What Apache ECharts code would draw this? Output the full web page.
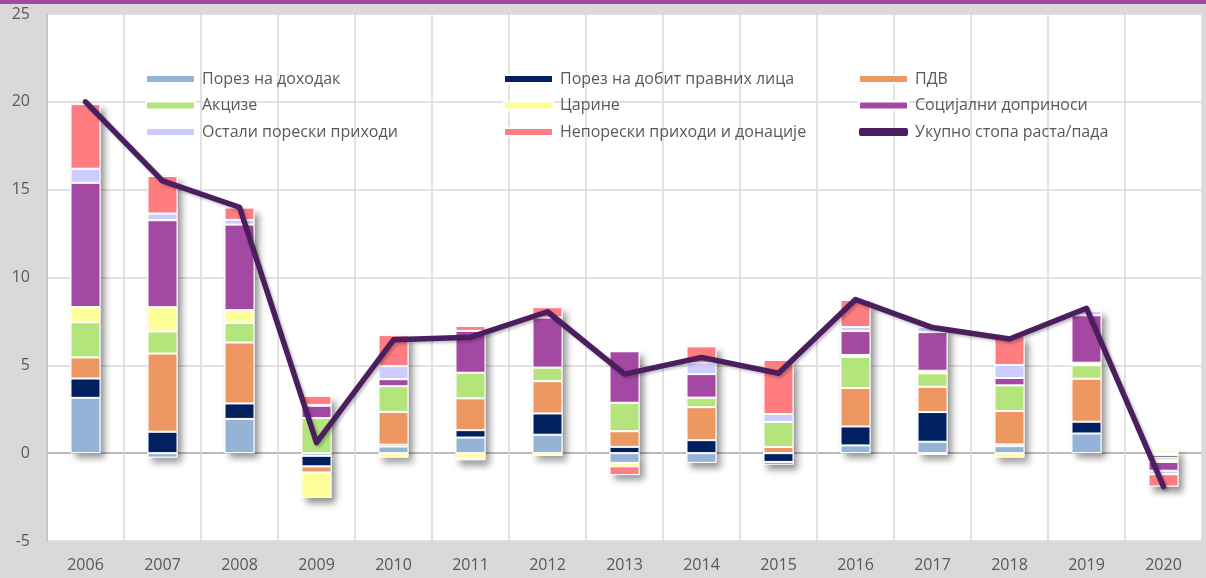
<!DOCTYPE html>
<html>
<head>
<meta charset="utf-8">
<script src="https://cdn.jsdelivr.net/npm/echarts@6/dist/echarts.min.js"></script>
<style>
  html, body { margin: 0; padding: 0; background: #d9d9d9; }
  #chart { width: 1206px; height: 578px; }
</style>
</head>
<body>
<div id="chart"></div>
<script>
// years on the category axis
var years = ['2006', '2007', '2008', '2009', '2010', '2011', '2012', '2013', '2014', '2015', '2016', '2017', '2018', '2019', '2020'];

// contributions to growth, p.p.
var incomeTax   = [3.15, -0.25, 1.95, -0.15, 0.38, 0.89, 1.05, -0.55, -0.55, 0, 0.44, 0.65, 0.4, 1.12, -0.1];
var profitTax   = [1.1, 1.22, 0.88, -0.6, 0.1, 0.42, 1.21, 0.36, 0.74, -0.5, 1.08, 1.69, 0.1, 0.67, -0.15];
var vat         = [1.2, 4.45, 3.47, -0.35, 1.87, 1.81, 1.84, 0.89, 1.88, 0.35, 2.19, 1.44, 1.9, 2.45, -0.15];
var excise      = [2.0, 1.26, 1.11, 2.0, 1.46, 1.46, 0.77, 1.62, 0.54, 1.43, 1.78, 0.76, 1.46, 0.76, -0.1];
var customs     = [0.87, 1.38, 0.73, -1.45, -0.25, -0.3, -0.15, -0.2, 0, 0, 0.1, 0.15, -0.25, 0.15, 0.2];
var social      = [7.07, 4.95, 4.87, 0.7, 0.4, 2.38, 2.85, 2.93, 1.34, -0.15, 1.36, 2.2, 0.42, 2.7, -0.5];
var otherTax    = [0.8, 0.38, 0.27, 0.05, 0.74, -0.1, 0, 0, 0.65, 0.45, 0.23, 0.29, 0.74, 0.24, -0.2];
var nonTax      = [3.68, 2.14, 0.7, 0.5, 1.77, 0.28, 0.59, -0.5, 0.93, 3.08, 1.54, -0.1, 1.65, 0.08, -0.7];
var totalGrowth = [20.0, 15.5, 14.0, 0.6, 6.45, 6.6, 8.05, 4.5, 5.45, 4.55, 8.75, 7.15, 6.5, 8.25, -1.9];

var yTicks = [-5, 0, 5, 10, 15, 20, 25];

var names = ['Порез на доходак', 'Порез на добит правних лица', 'ПДВ', 'Акцизе', 'Царине',
             'Социјални доприноси', 'Остали порески приходи', 'Непорески приходи и донације',
             'Укупно стопа раста/пада'];
var parts = [incomeTax, profitTax, vat, excise, customs, social, otherTax, nonTax];
var colors = ['#95b3d7', '#002060', '#ed9863', '#b4e57d', '#ffff99', '#a349a4', '#ccccff', '#ff7c80', '#4b1e5f'];

var font = 'Open Sans';
var grey = '#595959';

// white blocks behind the stacks only to cast the drop shadow
var posSum = years.map(function (y, i) {
  return parts.reduce(function (s, p) { return s + (p[i] > 0 ? p[i] : 0); }, 0);
});
var negSum = years.map(function (y, i) {
  return parts.reduce(function (s, p) { return s + (p[i] < 0 ? p[i] : 0); }, 0);
});
var shadowStyle = {
  color: '#fff',
  shadowColor: 'rgba(0,0,0,0.45)',
  shadowBlur: 7,
  shadowOffsetX: 4,
  shadowOffsetY: 5
};

var series = [
  { type: 'bar', stack: 'sh', data: posSum, barWidth: 30, barGap: '-100%', itemStyle: shadowStyle, silent: true },
  { type: 'bar', stack: 'sh', data: negSum, barWidth: 30, barGap: '-100%', itemStyle: shadowStyle, silent: true }
];
parts.forEach(function (p, k) {
  series.push({
    name: names[k],
    type: 'bar',
    stack: 'total',
    data: p,
    barWidth: 30,
    barGap: '-100%',
    itemStyle: { color: colors[k], borderColor: '#fff', borderWidth: 1 }
  });
});
series.push({
  name: names[8],
  type: 'line',
  data: totalGrowth,
  symbol: 'none',
  z: 5,
  itemStyle: { color: colors[8] },
  lineStyle: {
    color: colors[8], width: 5.5, cap: 'round', join: 'round',
    shadowColor: 'rgba(0,0,0,0.25)', shadowBlur: 3, shadowOffsetX: 2, shadowOffsetY: 2
  }
});

function legendCol(left, idx) {
  return {
    orient: 'vertical',
    left: left,
    top: 70,
    padding: 0,
    itemWidth: 49,
    itemHeight: 8,
    itemGap: 8.5,
    icon: 'rect',
    selectedMode: false,
    data: idx.map(function (i) {
      return i === 8 ? { name: names[i], icon: 'roundRect' } : { name: names[i] };
    }),
    textStyle: { color: grey, fontSize: 16, fontFamily: font, lineHeight: 18, padding: [0, 0, 0, 2] }
  };
}

var myChart = echarts.init(document.getElementById('chart'));
var option = {
  animation: false,
  color: colors,
  graphic: [
    { type: 'rect', left: 0, top: 0, shape: { width: 1206, height: 4 }, style: { fill: '#a349a4' } }
  ],
  legend: [
    legendCol(145, [0, 3, 6]),
    legendCol(503, [1, 4, 7]),
    legendCol(858, [2, 5, 8])
  ],
  grid: {
    left: 47, right: 4, top: 14, bottom: 37,
    show: true, backgroundColor: '#fff', borderWidth: 0
  },
  xAxis: {
    type: 'category',
    data: years,
    axisLine: { show: false, onZero: false },
    axisTick: { show: false },
    axisLabel: { color: grey, fontSize: 16, fontFamily: font, margin: 16 },
    splitLine: { show: true, lineStyle: { color: '#d9d9d9', width: 1.5 } }
  },
  yAxis: {
    type: 'value',
    min: yTicks[0],
    max: yTicks[yTicks.length - 1],
    interval: 5,
    axisLine: { show: true, lineStyle: { color: '#bfbfbf', width: 1.5 } },
    axisTick: { show: false },
    axisLabel: { color: grey, fontSize: 16, fontFamily: font, margin: 17 },
    splitLine: {
      lineStyle: {
        width: 1.5,
        color: yTicks.map(function (t) { return t === 0 ? '#a6a6a6' : '#d9d9d9'; })
      }
    }
  },
  series: series
};

option && myChart.setOption(option);
</script>
</body>
</html>
